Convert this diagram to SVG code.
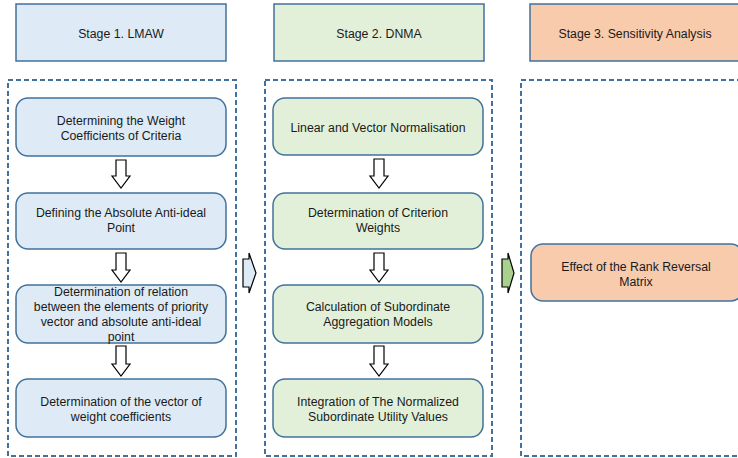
<svg xmlns="http://www.w3.org/2000/svg" width="738" height="458" viewBox="0 0 738 458">
<style>
text{font-family:"Liberation Sans",Arial,sans-serif;font-size:12.3px;fill:#1a1a1a;text-anchor:middle}
.hb{fill:#DEEBF7;stroke:#41719C;stroke-width:1.5}
.hg{fill:#E2F0D9;stroke:#41719C;stroke-width:1.5}
.ho{fill:#F8CBAD;stroke:#41719C;stroke-width:1.5}
.dash{fill:none;stroke:#41719C;stroke-width:2;stroke-dasharray:5,3}
.da{fill:#fff;stroke:#000;stroke-width:1.2}
.ra{stroke:#000;stroke-width:1.2}
</style>
<g id="stage1-header"><rect class="hb" x="16" y="4" width="210" height="57"/><text x="121" y="38">Stage 1. LMAW</text></g>
<g id="stage2-header"><rect class="hg" x="274" y="4" width="210" height="57"/><text x="379" y="38">Stage 2. DNMA</text></g>
<g id="stage3-header"><rect class="ho" x="530" y="4" width="212" height="57"/><text x="635" y="38">Stage 3. Sensitivity Analysis</text></g>
<g id="stage1-box"><rect class="dash" x="8" y="80" width="228" height="376"/></g>
<g id="stage2-box"><rect class="dash" x="265" y="80" width="227" height="376"/></g>
<g id="stage3-box"><rect class="dash" x="521" y="80" width="228" height="376"/></g>
<g id="n1"><rect class="hb" x="16" y="98" width="210" height="58" rx="12"/><text x="121" y="125">Determining the Weight</text><text x="121" y="140">Coefficients of Criteria</text></g>
<g id="n2"><rect class="hb" x="16" y="193" width="210" height="56" rx="12"/><text x="121" y="217">Defining the Absolute Anti-ideal</text><text x="121" y="232">Point</text></g>
<g id="n3"><rect class="hb" x="16" y="285" width="210" height="58" rx="12"/><text x="121" y="296">Determination of relation</text><text x="121" y="311">between the elements of priority</text><text x="121" y="326">vector and absolute anti-ideal</text><text x="121" y="341">point</text></g>
<g id="n4"><rect class="hb" x="16" y="379" width="210" height="58" rx="12"/><text x="121" y="406">Determination of the vector of</text><text x="121" y="421">weight coefficients</text></g>
<g id="m1"><rect class="hg" x="273" y="98" width="210" height="57" rx="12"/><text x="378" y="132">Linear and Vector Normalisation</text></g>
<g id="m2"><rect class="hg" x="273" y="193" width="210" height="56" rx="12"/><text x="378" y="217">Determination of Criterion</text><text x="378" y="232">Weights</text></g>
<g id="m3"><rect class="hg" x="273" y="285" width="210" height="58" rx="12"/><text x="378" y="311">Calculation of Subordinate</text><text x="378" y="326">Aggregation Models</text></g>
<g id="m4"><rect class="hg" x="273" y="379" width="210" height="58" rx="12"/><text x="378" y="406">Integration of The Normalized</text><text x="378" y="421">Subordinate Utility Values</text></g>
<g id="s1"><rect class="ho" x="531" y="244" width="212" height="57" rx="12"/><text x="636" y="271">Effect of the Rank Reversal</text><text x="636" y="286">Matrix</text></g>
<g id="connectors">
<polygon class="da" points="116,160 126,160 126,176 130,176 121,188 112,176 116,176"/>
<polygon class="da" points="116,253 126,253 126,270 130,270 121,282 112,270 116,270"/>
<polygon class="da" points="116,346 126,346 126,364 130,364 121,376 112,364 116,364"/>
<polygon class="da" points="374,159 384,159 384,176 388,176 379,188 370,176 374,176"/>
<polygon class="da" points="374,253 384,253 384,270 388,270 379,282 370,270 374,270"/>
<polygon class="da" points="374,346 384,346 384,364 388,364 379,376 370,364 374,364"/>
<polygon class="ra" fill="#DEEBF7" points="243,259 249,259 249,253 256,273 249,293 249,287 243,287"/>
<polygon class="ra" fill="#A9D18E" points="502,259 508,259 508,253 514,273 508,293 508,287 502,287"/>
</g>
</svg>
